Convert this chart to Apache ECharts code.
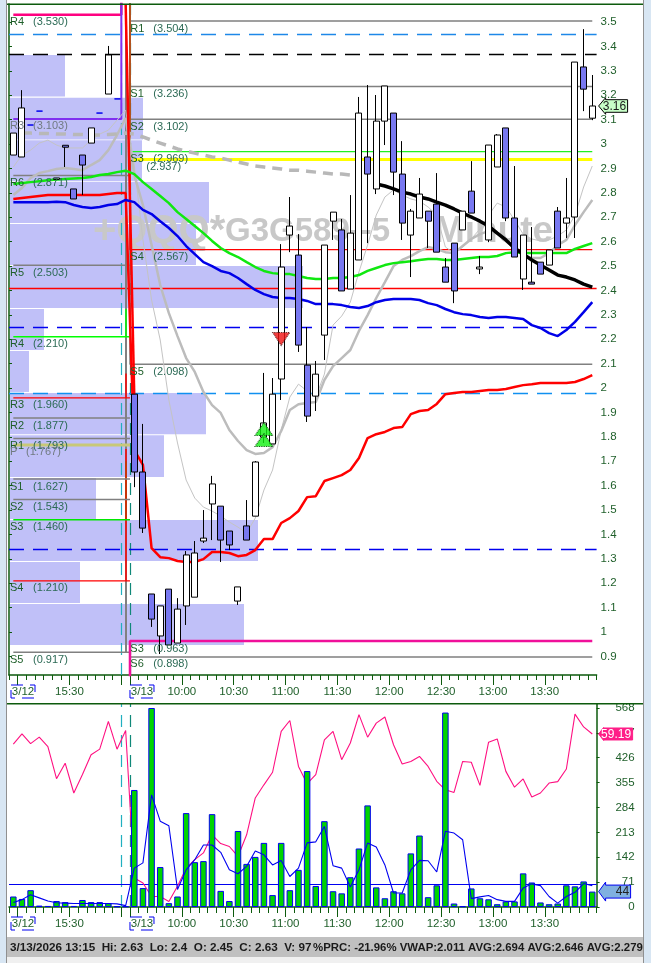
<!DOCTYPE html>
<html>
<head>
<meta charset="utf-8">
<title>QQQ 5 minute</title>
<style>
  html, body { margin: 0; padding: 0; background: #fff; }
  #chart { width: 651px; height: 963px; }
</style>
<script src="https://cdn.jsdelivr.net/npm/echarts@6/dist/echarts.min.js"></script>
</head>
<body>
<div id="chart"></div>
<script>
// 5 minute bars, 14 from 3/12 then 54 from 3/13. [open, close, low, high]
const candles = [
  [2.955,3.045,2.955,3.045],[2.947,3.148,2.947,3.221],[3.078,3.078,3.078,3.078],[3.135,3.135,3.135,3.135],
  ['-','-','-','-'],[2.855,2.861,2.855,2.861],[2.995,2.987,2.906,2.995],[2.816,2.775,2.775,2.816],
  [2.955,2.914,2.791,2.955],[3.004,3.066,3.004,3.066],[3.127,3.127,3.127,3.127],[3.205,3.365,3.205,3.402],
  [3.185,3.185,3.185,3.185],['-','-','-','-'],[1.975,1.656,1.594,1.975],[1.656,1.426,1.406,1.853],
  [1.156,1.053,1.021,1.156],[0.984,1.107,0.910,1.107],[1.176,0.947,0.947,1.176],[0.955,1.094,0.955,1.139],
  [1.107,1.316,1.029,1.332],[1.143,1.324,1.143,1.373],[1.373,1.385,1.365,1.500],[1.525,1.607,1.377,1.640],
  [1.516,1.377,1.287,1.516],[1.414,1.357,1.336,1.414],[1.127,1.185,1.111,1.185],[1.435,1.377,1.377,1.541],
  [1.475,1.697,1.475,1.701],[1.799,1.857,1.775,2.062],[1.771,1.975,1.771,2.041],[2.037,2.496,1.951,2.590],
  [2.627,2.664,2.557,2.783],[2.545,2.176,2.148,2.631],[2.094,1.885,1.861,2.250],[1.967,2.057,1.906,2.111],
  [2.217,2.586,2.115,2.586],[2.684,2.721,2.607,2.721],[2.648,2.398,2.398,2.693],[2.406,2.635,2.406,2.791],
  [2.525,3.127,2.525,3.193],[2.947,2.877,2.594,3.242],[2.816,3.094,2.795,3.201],[3.094,3.238,2.996,3.238],
  [3.127,2.885,2.791,3.127],[2.877,2.676,2.607,3.012],[2.627,2.725,2.455,2.734],[2.697,2.795,2.697,2.861],
  [2.725,2.684,2.574,2.725],[2.754,2.557,2.557,2.881],[2.496,2.434,2.434,2.533],[2.594,2.398,2.348,2.594],
  [2.648,2.725,2.648,2.725],[2.807,2.717,2.717,2.930],[2.488,2.496,2.467,2.541],[2.607,2.996,2.598,2.996],
  [2.906,3.037,2.906,3.041],[3.066,2.697,2.684,3.066],[2.697,2.537,2.537,2.910],[2.447,2.627,2.402,2.627],
  [2.434,2.426,2.426,2.660],[2.516,2.467,2.467,2.516],[2.504,2.566,2.504,2.566],[2.725,2.574,2.574,2.742],
  [2.676,2.697,2.615,2.861],[2.701,3.336,2.615,3.336],[3.316,3.225,3.135,3.471],[3.106,3.156,3.098,3.283]
];
const dashBars = [2, 3, 10, 12];

const redLine = [2.775,2.779,2.783,2.787,2.791,2.791,2.791,2.791,2.791,2.791,2.791,2.795,2.799,2.799,1.746,1.685,1.344,1.307,1.303,1.291,1.287,1.287,1.299,1.328,1.328,1.324,1.311,1.316,1.336,1.381,1.381,1.447,1.467,1.496,1.553,1.557,1.619,1.631,1.643,1.664,1.713,1.795,1.811,1.820,1.836,1.840,1.893,1.906,1.910,1.935,1.975,1.980,1.984,1.984,1.988,1.992,1.992,1.996,2.004,2.012,2.016,2.021,2.021,2.021,2.021,2.025,2.037,2.053];
const redSpike = [null,null,null,null,null,null,null,null,null,null,null,null,null,3.574,1.960];
const greenLine = [2.836,2.840,2.844,2.848,2.852,2.855,2.857,2.859,2.861,2.865,2.873,2.877,2.885,2.891,2.877,2.844,2.816,2.787,2.758,2.721,2.693,2.664,2.635,2.603,2.574,2.553,2.537,2.516,2.496,2.480,2.471,2.467,2.467,2.459,2.451,2.447,2.447,2.451,2.451,2.455,2.463,2.480,2.492,2.504,2.512,2.516,2.520,2.525,2.529,2.529,2.525,2.525,2.529,2.533,2.537,2.537,2.541,2.553,2.557,2.553,2.553,2.553,2.553,2.553,2.553,2.570,2.582,2.594];
const blueLine = [2.762,2.762,2.762,2.762,2.762,2.764,2.762,2.750,2.742,2.738,2.742,2.750,2.754,2.771,2.762,2.730,2.713,2.684,2.656,2.623,2.582,2.549,2.516,2.500,2.480,2.471,2.451,2.426,2.402,2.385,2.373,2.369,2.369,2.365,2.357,2.344,2.344,2.344,2.340,2.332,2.328,2.336,2.352,2.361,2.365,2.365,2.365,2.361,2.348,2.340,2.324,2.311,2.303,2.299,2.291,2.287,2.291,2.291,2.287,2.283,2.258,2.246,2.225,2.213,2.238,2.271,2.311,2.352];
const blackLine = [null,null,null,null,null,null,null,null,null,null,null,null,null,null,null,null,null,null,null,null,null,null,null,null,null,null,null,null,null,null,null,null,null,null,null,null,null,null,null,null,null,null,2.836,2.828,2.816,2.803,2.795,2.783,2.775,2.762,2.750,2.734,2.717,2.701,2.684,2.664,2.635,2.607,2.574,2.549,2.525,2.504,2.484,2.463,2.455,2.443,2.426,2.414];
const grayDashLine = [null,3.045,3.045,3.043,3.043,3.041,3.041,3.039,3.039,3.037,3.037,3.039,3.041,3.045,3.041,3.029,3.016,3.004,2.992,2.980,2.971,2.963,2.955,2.947,2.943,2.934,2.926,2.918,2.910,2.906,2.902,2.898,2.893,2.893,2.889,2.885,2.881,2.877,2.877,2.873];
const grayThickLine = [2.791,2.820,2.861,2.881,2.889,2.898,2.902,2.898,2.893,2.914,2.934,2.975,3.037,3.107,2.873,2.750,2.586,2.422,2.307,2.213,2.123,2.066,1.984,1.930,1.898,1.828,1.783,1.746,1.730,1.734,1.758,1.824,1.910,1.934,1.939,1.943,2.033,2.090,2.123,2.156,2.234,2.299,2.369,2.434,2.500,2.525,2.541,2.561,2.578,2.570,2.557,2.553,2.582,2.611,2.631,2.643,2.635,2.603,2.574,2.541,2.533,2.533,2.553,2.586,2.607,2.668,2.721,2.771];
const grayThinLine = [2.906,2.955,2.975,3.004,3.016,2.996,2.984,2.984,2.984,3.016,3.041,3.057,3.098,3.139,2.914,2.607,2.361,2.197,1.951,1.775,1.623,1.549,1.512,1.496,1.475,1.451,1.430,1.406,1.467,1.582,1.664,1.828,1.963,2.016,1.988,1.963,2.057,2.258,2.295,2.352,2.476,2.586,2.709,2.783,2.812,2.791,2.775,2.766,2.742,2.709,2.578,2.553,2.578,2.611,2.652,2.709,2.758,2.742,2.689,2.631,2.611,2.603,2.607,2.623,2.648,2.709,2.824,2.910];

const volume = [30,23,48,4,3,17,14,3,20,14,14,11,2,2,334,54,568,114,11,30,268,128,131,265,46,17,217,123,143,183,34,183,48,106,388,60,245,45,39,85,167,290,56,25,45,39,153,204,28,62,555,10,2,53,25,22,8,16,16,96,70,13,8,10,62,59,73,44];
const volumeAvg = [13,21,35,26,17,12,11,10,10,10,10,10,9,4,111,126,320,245,232,50,106,135,177,177,156,106,95,116,160,149,120,133,87,111,183,186,230,118,111,57,106,183,171,120,40,40,106,133,132,100,216,211,192,24,29,33,21,16,16,54,66,61,30,11,30,42,67,61];
const rsiLine = [55.7,59.2,55.9,58.1,54.9,43.9,49.2,39.0,45.3,52.1,54.0,63.5,54.0,60.4,9.9,8.2,3.6,3.6,1.9,7.1,13.3,16.2,18.5,24.7,21.7,20.7,17.3,24.7,37.3,41.8,46.1,60.1,63.8,48.1,42.2,45.3,57.2,60.1,50.4,56.1,65.8,58.1,62.9,65.0,55.5,48.9,49.8,51.5,48.1,43.0,40.1,39.2,49.8,49.5,41.6,56.4,57.5,46.4,41.0,43.8,37.6,39.0,42.4,42.9,47.2,66.0,61.6,59.19];

// volume by price blocks on the left, [bottom price, top price, size]
const profile = [
  [3.195,3.365,55],[3.019,3.190,133],[2.848,3.016,132],[2.676,2.844,199],[2.504,2.672,186],[2.328,2.500,293],
  [2.156,2.324,34],[1.984,2.152,19],[1.811,1.980,196],[1.635,1.807,154],[1.463,1.631,86],[1.291,1.459,248],
  [1.119,1.287,70],[0.947,1.115,234]
];

const GRAY = '#808080';
// pivots of the previous session [label, value, colour, width, where the line runs off to]
const leftPivots = [
  ['R4',3.530,'#ff0080',2.5,4],['R3',3.103,'#8030f0',2,4],['R6',2.871,GRAY,1.5,null],['R5',2.503,GRAY,1.5,null],
  ['R4',2.210,'#00ff00',1.5,null],['R3',1.960,'#ff0000',1.2,null],['R2',1.877,GRAY,1.5,null],['R1',1.793,GRAY,1.5,null],
  ['P',1.767,'#c8c878',3,null],['S1',1.627,GRAY,1.5,null],['S2',1.543,GRAY,1.5,null],['S3',1.460,'#00e800',1.5,null],
  ['S4',1.210,'#ff0000',1.2,null],['S5',0.917,GRAY,1.5,null]
];
// pivots of the current session
const rightPivots = [
  ['R1',3.504,GRAY,1.5,4],['S1',3.236,GRAY,1.5,4],['S2',3.102,GRAY,1.5,4],['S3',2.969,'#20f020',1.2,4],
  ['',2.937,'#ffff00',3,null],['S4',2.567,'#ff0000',1.2,4],['S5',2.098,GRAY,1.5,4],['S3',0.963,'#f0109a',2.5,0.5],
  ['S6',0.898,GRAY,1.5,0.5]
];
// short verticals where the old pivots end, [from, to, colour]
const risers = [
  [0.917,3.574,GRAY],[2.210,2.324,'#00ff00'],[1.460,1.700,'#00e800'],[1.960,2.060,'#ff0000'],[1.210,1.750,'#ff0000']
];
// full width horizontals
const fullLevels = [
  [3.447,'#1e88e8','dashed'],[3.365,'#000000','dashed'],[2.414,'#ff0000','solid'],
  [2.250,'#0000f0','dashed'],[1.984,'#1090f0','dashed'],[1.336,'#0000f0','dashed']
];
const volumeLevel = 66;

const priceTicks = [0.9,1,1.1,1.2,1.3,1.4,1.5,1.6,1.7,1.8,1.9,2,2.1,2.2,2.3,2.4,2.5,2.6,2.7,2.8,2.9,3,3.1,3.2,3.3,3.4,3.5];
const volumeTicks = [0,71,142,213,284,355,426,497,568];
const timeLabels = {7:'15:30',20:'10:00',26:'10:30',32:'11:00',38:'11:30',44:'12:00',50:'12:30',56:'13:00',62:'13:30'};
const longTicks = [1,7,13,14,20,26,32,38,44,50,56,62];
const dateTags = [[0,'3/12'],[14,'3/13']];
const upSignals = [[29,1.832],[29,1.787]];
const downSignals = [[31,2.201]];
const statusHead = '3/13/2026 13:15  Hi: 2.63  Lo: 2.4  O: 2.45  C: 2.63  V: 97';
const statusTail = '%PRC: -21.96% VWAP:2.011 AVG:2.694 AVG:2.646 AVG:2.279';

const FONT = '"Liberation Sans", Arial, sans-serif';
const TEXT_GREEN = '#1f5f2a';
const FRINGE = 'rgba(215,180,0,0.75)';
const barNames = candles.map((_, i) => 'b' + i);
const edgeNames = candles.concat([0]).map((_, i) => 'e' + i);

const chart = echarts.init(document.getElementById('chart'));

function line(name, data, color, width, extra) {
  return Object.assign({
    name, type: 'line', data, symbol: 'none', animation: false, silent: true, z: 2,
    lineStyle: { color, width }
  }, extra);
}

function leftLevel(p) {
  // no run off value: the line just stops at the last bar of the session
  const last = p[4] === null ? 13 : 12;
  const d = candles.map((_, i) => (i <= last ? p[1] : (i === 13 ? p[4] : null)));
  return line('prev ' + p[0], d, p[2], p[3], { step: 'middle' });
}
function rightLevel(p) {
  const d = candles.map((_, i) => (i >= 14 ? p[1] : (i === 13 && p[4] !== null ? p[4] : null)));
  return line('cur ' + p[0], d, p[2], p[3], { step: 'middle' });
}

function pivotLabels(list, side) {
  return {
    type: 'custom', xAxisIndex: 0, yAxisIndex: 0, z: 6, silent: true, animation: false, clip: false,
    data: list.map((p, i) => [i, p[1]]),
    renderItem(params, api) {
      const p = list[params.dataIndex];
      const y = api.coord([side === 'left' ? 0 : 14, p[1]])[1] + 7.5;
      const x = side === 'left' ? params.coordSys.x + 1 : api.coord([14, p[1]])[0] - 4;
      const faded = side === 'left' && (p[1] === 3.103 || p[0] === 'P');
      const gap = (p[0] === 'P' || p[0] === '') ? 16 : 23;
      const txt = (s, tx, fill) => ({
        type: 'text',
        style: { text: s, x: tx, y, fill, font: '11px ' + FONT, verticalAlign: 'middle', align: 'left',
          textShadowColor: FRINGE, textShadowOffsetX: faded ? 0 : 0.5, textShadowBlur: 0 }
      });
      return { type: 'group', children: [
        txt(p[0], x, faded ? '#707a80' : '#1f5f2a'),
        txt('(' + p[1].toFixed(3) + ')', x + gap, faded ? '#707a80' : '#2c6a55')
      ] };
    }
  };
}

function dateBoxes(xAxisIndex, yAxisIndex, anyY) {
  return {
    type: 'custom', xAxisIndex, yAxisIndex, z: 6, silent: true, animation: false, clip: false,
    data: dateTags.map(t => [t[0]]),
    renderItem(params, api) {
      const tag = dateTags[params.dataIndex];
      const x = api.coord([api.value(0), anyY])[0] + (tag[0] === 0 ? 2 : 0);
      const y = params.coordSys.y + params.coordSys.height + 10;
      return { type: 'group', children: [
        { type: 'rect', shape: { x, y, width: 24, height: 13 },
          style: { fill: 'none', stroke: '#0000f0', lineWidth: 1, lineDash: [12, 7] } },
        { type: 'text', style: { text: tag[1], x: x + 12, y: y + 7, fill: TEXT_GREEN, font: '11.5px ' + FONT,
          align: 'center', verticalAlign: 'middle', textShadowColor: FRINGE, textShadowOffsetX: 0.5, textShadowBlur: 0 } }
      ] };
    }
  };
}

// flag at the right of the axis: tip, head, box
function flag(yAxisIndex, xAxisIndex, value, text, o) {
  return {
    type: 'custom', xAxisIndex, yAxisIndex, z: 8, silent: true, animation: false, clip: false,
    data: [[67, value]],
    renderItem(params, api) {
      const y = api.coord([67, api.value(1)])[1];
      const r = params.coordSys.x + params.coordSys.width;
      const tip = r + 2, head = tip + o.head, end = tip + o.len;
      return { type: 'group', children: [
        { type: 'polygon',
          shape: { points: [[tip, y], [head, y - o.hh], [head, y - o.bh], [end, y - o.bh], [end, y + o.bh], [head, y + o.bh], [head, y + o.hh]] },
          style: { fill: o.fill, stroke: o.stroke, lineWidth: 1 } },
        { type: 'text', style: { text, x: end - 1.5, y: y + 0.5, fill: o.color, font: '12px ' + FONT, align: 'right', verticalAlign: 'middle' } }
      ] };
    }
  };
}

const axisLabelBase = { fontFamily: FONT, fontSize: 11.5, color: TEXT_GREEN, textShadowColor: FRINGE, textShadowOffsetX: 0.5, textShadowBlur: 0 };
const axisLineGreen = { show: true, lineStyle: { color: '#0d5a0d', width: 1.5 } };

function shortTickAxis(gridIndex, len) {
  return {
    type: 'category', gridIndex, position: 'bottom', data: barNames, boundaryGap: true,
    axisLine: axisLineGreen,
    axisTick: { show: true, length: len, interval: 0, lineStyle: { color: '#0d5a0d' } },
    axisLabel: { show: false }, splitLine: { show: false }
  };
}
function longTickAxis(gridIndex, len, margin) {
  return {
    type: 'category', gridIndex, position: 'bottom', data: edgeNames, boundaryGap: false,
    axisLine: { show: false },
    axisTick: { show: true, length: len, interval: i => longTicks.includes(i), lineStyle: { color: '#0d5a0d' } },
    axisLabel: Object.assign({}, axisLabelBase, {
      show: true, margin, interval: i => timeLabels[i] !== undefined, hideOverlap: false,
      formatter: (v, i) => timeLabels[i] || ''
    }),
    splitLine: { show: false }
  };
}

const sessionDividers = {
  silent: true, symbol: 'none', label: { show: false }, z: 2, animation: false,
  data: [
    { xAxis: 13, lineStyle: { color: '#20b0c0', type: [12, 8], width: 1.2 } },
    { xAxis: 14, lineStyle: { color: '#108878', type: [12, 8], width: 1.2 } }
  ]
};

// gray pivots go under the coloured ones
const isGray = p => p[2] === GRAY;
const pivotSeries = [
  ...leftPivots.filter(isGray).map(leftLevel),
  ...rightPivots.filter(isGray).map(rightLevel),
  ...leftPivots.filter(p => !isGray(p)).map(leftLevel),
  ...rightPivots.filter(p => !isGray(p)).map(rightLevel)
];

const watermarkStyle = { y: 232, fill: '#c8c8c8', verticalAlign: 'middle', shadowColor: 'rgba(120,120,120,0.4)', shadowBlur: 2, shadowOffsetX: 1, shadowOffsetY: 1 };

const option = {
  animation: false,
  backgroundColor: '#ffffff',
  textStyle: { fontFamily: FONT },
  grid: [
    { left: 9, top: 4, width: 587.6, height: 671, outerBoundsMode: 'none' },
    { left: 9, top: 704, width: 587.6, height: 203, outerBoundsMode: 'none' }
  ],
  xAxis: [
    shortTickAxis(0, 5),
    longTickAxis(0, 10, 11),
    { type: 'value', gridIndex: 0, min: 0, max: 587.6, show: false },
    shortTickAxis(1, 6),
    longTickAxis(1, 10, 11)
  ],
  yAxis: [
    { type: 'value', gridIndex: 0, position: 'right', min: 0.824, max: 3.574, scale: true,
      axisLine: axisLineGreen, splitLine: { show: false },
      axisTick: { show: true, length: 3, customValues: priceTicks, lineStyle: { color: '#0d5a0d' } },
      axisLabel: Object.assign({}, axisLabelBase, { margin: 4, customValues: priceTicks, formatter: v => String(v) }) },
    { type: 'value', gridIndex: 1, position: 'right', min: 0, max: 579.4,
      axisLine: axisLineGreen, splitLine: { show: false },
      axisTick: { show: true, length: 3, customValues: volumeTicks, lineStyle: { color: '#0d5a0d' } },
      axisLabel: Object.assign({}, axisLabelBase, { margin: 38, align: 'right', customValues: volumeTicks, formatter: v => String(v) }) },
    { type: 'value', gridIndex: 1, position: 'right', min: 0, max: 69.45, show: false }
  ],
  graphic: [
    // watermark, the original face is stretched so it goes in three pieces
    { type: 'text', z: 1, silent: true, style: Object.assign({ text: '+QQQ*', x: 93, font: 'bold 40px ' + FONT }, watermarkStyle) },
    { type: 'text', z: 1, silent: true, style: Object.assign({ text: 'G3G589--5', x: 225, font: 'bold 33px ' + FONT }, watermarkStyle) },
    { type: 'text', z: 1, silent: true, style: Object.assign({ text: 'Minute', x: 434, font: 'bold 37px ' + FONT }, watermarkStyle) },
    // window chrome
    { type: 'rect', z: 9, silent: true, shape: { x: 0, y: 0, width: 6, height: 963 }, style: { fill: '#d8e6f3' } },
    { type: 'rect', z: 9, silent: true, shape: { x: 6, y: 0, width: 1, height: 963 }, style: { fill: '#909090' } },
    { type: 'rect', z: 9, silent: true, shape: { x: 7, y: 3.5, width: 637, height: 1.5 }, style: { fill: '#0d5a0d' } },
    { type: 'rect', z: 9, silent: true, shape: { x: 7, y: 703, width: 637, height: 1.5 }, style: { fill: '#0d5a0d' } },
    { type: 'rect', z: 9, silent: true, shape: { x: 7, y: 937, width: 637, height: 20 }, style: { fill: '#c0c0c0' } },
    { type: 'rect', z: 9, silent: true, shape: { x: 7, y: 957, width: 637, height: 6 }, style: { fill: '#f0f0f0' } },
    { type: 'text', z: 10, silent: true, style: { text: statusHead, x: 10, y: 948, fill: '#1a1a1a', font: 'bold 11.7px ' + FONT, verticalAlign: 'middle' } },
    { type: 'text', z: 10, silent: true, style: { text: statusTail, x: 313, y: 948, fill: '#1a1a1a', font: 'bold 11.4px ' + FONT, verticalAlign: 'middle' } },
    { type: 'rect', z: 11, silent: true, shape: { x: 644, y: 0, width: 7, height: 963 }, style: { fill: '#d8e6f3' } },
    { type: 'rect', z: 11, silent: true, shape: { x: 643, y: 0, width: 1, height: 963 }, style: { fill: '#909090' } }
  ],
  series: [
    // price panel
    {
      type: 'custom', name: 'profile', xAxisIndex: 2, yAxisIndex: 0, z: 0, silent: true, animation: false,
      data: profile,
      encode: { x: 2, y: [0, 1] },
      renderItem(params, api) {
        const a = api.coord([0, api.value(1)]);
        const b = api.coord([api.value(2), api.value(0)]);
        return { type: 'rect', shape: { x: a[0] + 1, y: a[1], width: b[0] - a[0], height: b[1] - a[1] },
          style: { fill: '#c0c0f8' } };
      }
    },
    line('dividers', edgeNames.map(() => null), '#000', 1, { xAxisIndex: 1, yAxisIndex: 0, markLine: sessionDividers }),
    line('levels', candles.map(() => null), '#000', 1, {
      markLine: {
        silent: true, symbol: 'none', label: { show: false }, z: 2, animation: false,
        data: fullLevels.map(l => ({ yAxis: l[0], lineStyle: { color: l[1], width: 1.3, type: l[2] === 'dashed' ? [15, 9] : 'solid' } }))
      }
    }),
    line('risers', candles.map(() => null), '#000', 1, {
      markLine: {
        silent: true, symbol: 'none', label: { show: false }, z: 2, animation: false,
        data: risers.map(r => [{ coord: [13, r[0]], lineStyle: { color: r[2], width: r[2] === GRAY ? 2 : 1.5, type: 'solid' } }, { coord: [13, r[1]] }])
      }
    }),
    ...pivotSeries,
    line('gray thin', grayThinLine, '#c4c4c4', 1),
    line('gray thick', grayThickLine, '#bcbcbc', 2.5),
    line('gray dash', grayDashLine, '#b8b8b8', 3.5, { lineStyle: { color: '#b8b8b8', width: 3.5, type: [10, 7] } }),
    line('vwap', redLine, '#ff0000', 2.5),
    line('vwap spike', redSpike, '#ff0000', 2.5),
    line('blue', blueLine, '#0000e8', 2.5),
    line('green', greenLine, '#10e810', 2.5),
    line('black', blackLine, '#000000', 3.5),
    {
      type: 'candlestick', name: 'price', z: 3, animation: false, silent: true, barWidth: 6.5,
      data: candles.map((c, i) => dashBars.includes(i)
        ? { value: c, itemStyle: { borderColor: '#0000f0', borderColor0: '#0000f0' } } : c),
      itemStyle: { color: '#ffffff', color0: '#7878f0', borderColor: '#000000', borderColor0: '#000000', borderWidth: 1 }
    },
    {
      type: 'scatter', name: 'up signal', z: 4, animation: false, silent: true, data: upSignals,
      symbol: 'triangle', symbolSize: [18, 13],
      itemStyle: { color: '#10f010', borderColor: '#003000', borderWidth: 1, borderType: 'dotted' }
    },
    {
      type: 'scatter', name: 'down signal', z: 4, animation: false, silent: true, data: downSignals,
      symbol: 'triangle', symbolRotate: 180, symbolSize: [17, 13],
      itemStyle: { color: '#f01010', borderColor: '#300000', borderWidth: 1, borderType: 'dotted' }
    },
    pivotLabels(leftPivots, 'left'),
    pivotLabels(rightPivots, 'right'),
    dateBoxes(1, 0, 1),
    flag(0, 0, 3.156, '3.16', { head: 7, len: 29, hh: 8.3, bh: 6.3, fill: '#c8ffc8', stroke: '#000000', color: '#1a1a1a' }),

    // volume panel
    line('dividers low', edgeNames.map(() => null), '#000', 1, { xAxisIndex: 4, yAxisIndex: 1, markLine: sessionDividers }),
    line('rsi', rsiLine, '#ff0f80', 1.1, { xAxisIndex: 3, yAxisIndex: 2 }),
    line('vol level', candles.map(() => null), '#000', 1, {
      xAxisIndex: 3, yAxisIndex: 1,
      markLine: { silent: true, symbol: 'none', label: { show: false }, z: 2, animation: false,
        data: [{ yAxis: volumeLevel, lineStyle: { color: '#0000f0', width: 1.2, type: 'solid' } }] }
    }),
    {
      type: 'bar', name: 'volume', xAxisIndex: 3, yAxisIndex: 1, z: 3, silent: true, animation: false,
      barWidth: 6.5, data: volume,
      itemStyle: { color: '#00d400', borderColor: '#0000f0', borderWidth: 1 }
    },
    line('volume avg', volumeAvg, '#0000f0', 1.1, { xAxisIndex: 3, yAxisIndex: 1, z: 4 }),
    dateBoxes(4, 1, 0),
    flag(2, 3, 59.19, '59.19', { head: 5, len: 34, hh: 6.5, bh: 6, fill: '#ff1f88', stroke: '#ff1f88', color: '#ffffff' }),
    flag(1, 3, 44, '44', { head: 7, len: 32, hh: 9.5, bh: 6.5, fill: '#80b0e0', stroke: '#0000f0', color: '#222222' })
  ]
};

chart.setOption(option);
</script>
</body>
</html>
